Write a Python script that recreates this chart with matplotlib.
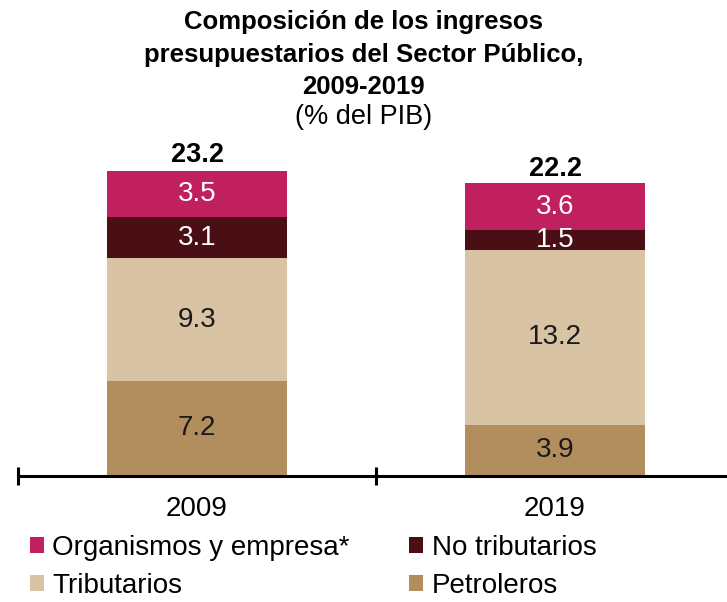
import matplotlib
matplotlib.use("Agg")
import matplotlib.pyplot as plt
from matplotlib.patches import Patch

years = ["2009", "2019"]
petroleros = [7.2, 3.9]
tributarios = [9.3, 13.2]
no_tributarios = [3.1, 1.5]
organismos = [3.5, 3.6]
totals = [23.2, 22.2]

series = [
    ("Petroleros", petroleros, "#B28D5E", "#1a1a1a"),
    ("Tributarios", tributarios, "#D8C3A5", "#1a1a1a"),
    ("No tributarios", no_tributarios, "#4A0F14", "white"),
    ("Organismos y empresa*", organismos, "#C0215E", "white"),
]

plt.rcParams['font.family'] = ['Liberation Sans', 'DejaVu Sans']
W, H = 727, 602
fig = plt.figure(figsize=(W / 100, H / 100), dpi=100)

left_px, right_px = 18, 734
bottom_px, top_px = 476, 146
ax = fig.add_axes([left_px / W, 1 - bottom_px / H, (right_px - left_px) / W, (bottom_px - top_px) / H])

x = list(range(len(years)))
bottoms = [0.0] * len(years)
for name, vals, col, tcol in series:
    ax.bar(x, vals, width=0.503, bottom=bottoms, color=col, label=name, zorder=2)
    for i, v in enumerate(vals):
        ax.text(i, bottoms[i] + v / 2, f"{v:.1f}", ha="center", va="center",
                fontsize=20, color=tcol, zorder=3)
    bottoms = [b + v for b, v in zip(bottoms, vals)]

for i, t in enumerate(totals):
    ax.text(i, t + 0.1, f"{t:.1f}", ha="center", va="bottom", fontsize=19.5,
            fontweight="bold", color="black")

ax.set_xlim(-0.5, 1.5)
ax.set_ylim(0, 25)
for s in ["top", "right", "left"]:
    ax.spines[s].set_visible(False)
ax.spines["bottom"].set_linewidth(2.2)
ax.spines["bottom"].set_zorder(4)
ax.set_yticks([])
ax.set_xticks([-0.5, 0.5, 1.5])
ax.set_xticklabels([])
ax.tick_params(axis="x", direction="inout", length=13, width=2.2)
for i, y in enumerate(years):
    ax.text(i, -2.5, y, ha="center", va="center", fontsize=20, color="black")

title_fs = 18.5
fig.text(0.5, 1 - 22 / H, "Composición de los ingresos", ha="center", va="center",
         fontsize=title_fs, fontweight="bold")
fig.text(0.5, 1 - 55 / H, "presupuestarios del Sector Público,", ha="center", va="center",
         fontsize=title_fs, fontweight="bold")
fig.text(0.5, 1 - 87 / H, "2009-2019", ha="center", va="center",
         fontsize=title_fs, fontweight="bold")
fig.text(0.5, 1 - 117 / H, "(% del PIB)", ha="center", va="center", fontsize=19.5)

order = [3, 1, 2, 0]
handles = [Patch(facecolor=series[k][2], edgecolor="none") for k in order]
labels = [series[k][0] for k in order]
fig.legend(handles, labels, ncol=2, loc="upper left", bbox_to_anchor=(30 / W, 1 - 535 / H),
           frameon=False, fontsize=20, handlelength=0.5, handleheight=0.5,
           handletextpad=0.3, columnspacing=2.15, labelspacing=0.42, borderpad=0,
           borderaxespad=0)

fig.savefig("out.png", dpi=100)
